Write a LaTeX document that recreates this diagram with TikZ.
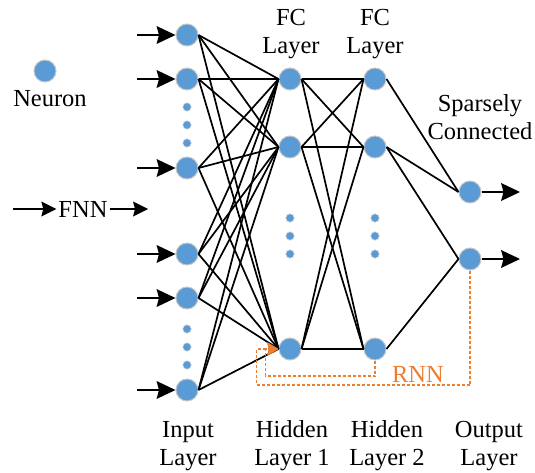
\documentclass[tikz,border=0pt]{standalone}
\usepackage{fontspec}
\setmainfont{Liberation Serif}
\usetikzlibrary{arrows.meta,positioning}
\definecolor{neuronblue}{HTML}{5B9BD5}
\definecolor{rnnorange}{HTML}{ED7D31}
\tikzset{neuron/.style={circle,fill=neuronblue,draw=black!22,line width=1pt,
  minimum size=22pt,inner sep=0pt},
dotn/.style={circle,fill=neuronblue,draw=black!15,line width=0.6pt,
  minimum size=8.5pt,inner sep=0pt},
conn/.style={line width=1.7pt},
feed/.style={-{Stealth[length=19pt,width=18pt,inset=2.5pt,line width=0pt]},line width=2pt},
feedsmall/.style={-{Stealth[length=15pt,width=15pt,inset=2pt,line width=0pt]},line width=2pt},
rnnline/.style={draw=rnnorange,line width=1.6pt,dash pattern=on 3pt off 2pt,
  -{Stealth[length=11pt,width=13pt,inset=1pt,fill=rnnorange]}},
lbl/.style={align=center,inner sep=2pt,font=\fontsize{24.5}{28}\selectfont}}

\begin{document}
\begin{tikzpicture}[x=1pt,y=-1pt]
  \useasboundingbox (0,0) rectangle (535,473);
  \foreach \n/\y in {1/35,2/79,3/168,4/254,5/298,6/390}
    { \node[neuron] (in\n) at (187,\y) {};
      \coordinate (src\n) at (137,\y);
      \draw[feed] (src\n) -- (in\n.west); }
  \foreach \n/\y in {1/79,2/147,3/349}
    { \node[neuron] (ha\n) at (290,\y) {};
      \node[neuron] (hb\n) at (375,\y) {}; }
  \node[neuron] (out1) at (470,192) {};
  \node[neuron] (out2) at (470,259) {};
  \foreach \y [count=\k] in {107,125,143}
    \node[dotn] (dta\k) at (187,\y) {};
  \foreach \y [count=\k] in {329,347,365}
    \node[dotn] (dtb\k) at (187,\y) {};
  \foreach \y [count=\k] in {218,236,254}
    { \node[dotn] (dtc\k) at (290,\y) {};
      \node[dotn] (dtd\k) at (375,\y) {}; }
  \foreach \i in {1,...,6}
    \foreach \j in {1,2,3}
      \draw[conn] (in\i.east) -- (ha\j.west);
  \foreach \i in {1,2,3}
    \foreach \j in {1,2,3}
      \draw[conn] (ha\i.east) -- (hb\j.west);
  \draw[conn] (hb1.east) -- (out1.west);
  \draw[conn] (hb2.east) -- (out1.west);
  \draw[conn] (hb2.east) -- (out2.west);
  \draw[conn] (hb3.east) -- (out2.west);
  \coordinate (sink1) at (520,192);
  \coordinate (sink2) at (520,259);
  \draw[feed] (out1.east) -- (sink1);
  \draw[feed] (out2.east) -- (sink2);
  \draw[rnnline] (hb3.south) |- ([xshift=-13pt,yshift=-27pt]ha3.west) |- (ha3.west);
  \draw[rnnline] (out2.south) |- ([xshift=-22pt,yshift=-36pt]ha3.west) |- (ha3.west);
  \node[lbl,text=rnnorange] (rnn) at (418,374) {RNN};
  \node[neuron] (legend) at (45,71) {};
  \node[lbl] (legendtxt) at (50,99) {Neuron};
  \node[lbl] (fnn) at (83,209) {FNN};
  \coordinate (fnnin) at (13,209);
  \coordinate (fnnout) at (148,209);
  \draw[feedsmall] (fnnin) -- (fnn.west);
  \draw[feedsmall] (fnn.east) -- (fnnout);
  \node[lbl] (fca) at (291,34) {FC\\Layer};
  \node[lbl] (fcb) at (375,34) {FC\\Layer};
  \node[lbl] (sparse) at (480,117) {Sparsely\\Connected};
  \node[lbl] (inlbl) at (188,446) {Input\\Layer};
  \node[lbl] (hidlbla) at (292,446) {Hidden\\Layer 1};
  \node[lbl] (hidlblb) at (387,446) {Hidden\\Layer 2};
  \node[lbl] (outlbl) at (489,446) {Output\\Layer};
\end{tikzpicture}
\end{document}
